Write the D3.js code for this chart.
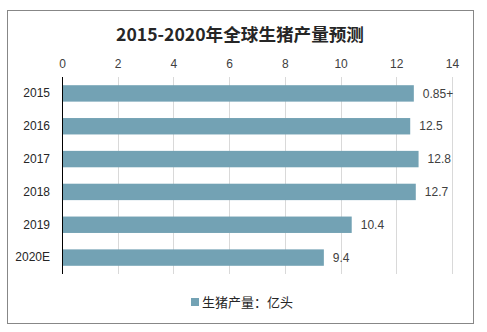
<!DOCTYPE html>
<html><head><meta charset="utf-8">
<script src="https://cdn.jsdelivr.net/npm/d3@7"></script>
<style>body{margin:0;background:#fff;}svg{display:block;}</style>
</head><body>
<svg id="c" width="487" height="332"></svg>
<script>
const categories = ["2015","2016","2017","2018","2019","2020E"];
const values = [12.63, 12.5, 12.8, 12.7, 10.4, 9.4];
const valueLabels = ["0.85+","12.5","12.8","12.7","10.4","9.4"];
const tickValues = [0,2,4,6,8,10,12,14];
const title = "2015-2020年全球生猪产量预测";
const legendLabel = "生猪产量：亿头";

const svg = d3.select("#c");
const font = "'Microsoft YaHei','Noto Sans CJK SC','Liberation Sans',Arial,sans-serif";
const numFont = "'Liberation Sans',Arial,sans-serif";
svg.append("rect").attr("x",7.5).attr("y",10.5).attr("width",466).attr("height",313)
  .attr("fill","#fff").attr("stroke","#878787").attr("stroke-width",1);

const x = d3.scaleLinear().domain([0,14]).range([62,452]);
const y = d3.scaleBand().domain(categories).range([77,274]).paddingInner(0.5).paddingOuter(0.25);

svg.append("text").attr("x",240).attr("y",40.5).attr("text-anchor","middle")
  .attr("font-family",font).attr("font-size",17.6).attr("font-weight","bold").attr("fill","#262626").text(title);

// gridlines
svg.append("g").selectAll("line").data(tickValues.filter(d=>d>0)).join("line")
  .attr("x1",d=>Math.round(x(d))+0.5).attr("x2",d=>Math.round(x(d))+0.5)
  .attr("y1",77).attr("y2",274).attr("stroke","#d9d9d9").attr("stroke-width",1);

// top axis labels
const ax = svg.append("g").attr("transform","translate(0,77)")
  .call(d3.axisTop(x).tickValues(tickValues).tickSize(0).tickPadding(9));
ax.select(".domain").remove();
ax.selectAll("text").attr("font-family",numFont).attr("font-size",12).attr("fill","#404040");

// bars
svg.append("g").selectAll("rect").data(values).join("rect")
  .attr("x",x(0)).attr("y",(d,i)=>y(categories[i]))
  .attr("width",d=>x(d)-x(0)).attr("height",y.bandwidth()).attr("fill","#73a2b4");

// left axis
const ay = svg.append("g").attr("transform",`translate(${x(0)},0)`)
  .call(d3.axisLeft(y).tickSize(0).tickPadding(12));
ay.select(".domain").attr("stroke","#000").attr("d","M0.5,77V274");
ay.selectAll("text").attr("font-family",numFont).attr("font-size",12).attr("fill","#262626");

// value labels
svg.append("g").selectAll("text").data(values).join("text")
  .attr("x",d=>x(d)+9).attr("y",(d,i)=>y(categories[i])+y.bandwidth()/2)
  .attr("dy","0.35em").attr("font-family",numFont).attr("font-size",12).attr("fill","#404040")
  .text((d,i)=>valueLabels[i]);

// legend
svg.append("rect").attr("x",191).attr("y",298).attr("width",8).attr("height",8).attr("fill","#73a2b4");
svg.append("text").attr("x",202).attr("y",302).attr("dy","0.35em").attr("font-family",font)
  .attr("font-size",13).attr("fill","#262626").text(legendLabel);
</script>
</body></html>
